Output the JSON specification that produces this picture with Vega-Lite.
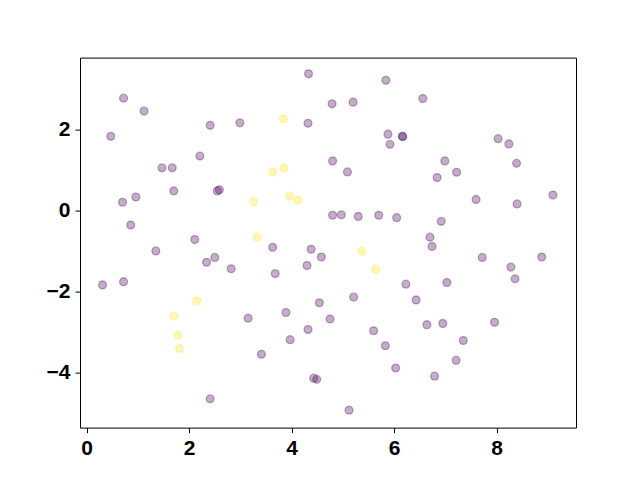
{
  "$schema": "https://vega.github.io/schema/vega-lite/v6.json",
  "width": 496,
  "height": 370,
  "autosize": {"type": "none"},
  "padding": {"left": 80, "top": 57.6, "right": 64, "bottom": 52.4},
  "background": "white",
  "config": {
    "view": {"stroke": "black", "strokeWidth": 1},
    "axis": {
      "grid": false,
      "domain": false,
      "tickColor": "black",
      "tickSize": 5,
      "tickWidth": 1,
      "labelFont": "Liberation Sans",
      "labelFontWeight": "bold",
      "labelFontSize": 21,
      "labelColor": "black",
      "labelPadding": 5,
      "title": null
    }
  },
  "data": {
    "values": [
      {"x": 0.72, "y": 2.77, "c": 0}, {"x": 1.12, "y": 2.45, "c": 0}, {"x": 0.47, "y": 1.83, "c": 0},
      {"x": 2.41, "y": 2.10, "c": 0}, {"x": 2.99, "y": 2.16, "c": 0}, {"x": 2.21, "y": 1.34, "c": 0},
      {"x": 1.47, "y": 1.05, "c": 0}, {"x": 1.67, "y": 1.05, "c": 0}, {"x": 1.70, "y": 0.48, "c": 0},
      {"x": 2.55, "y": 0.48, "c": 0}, {"x": 2.59, "y": 0.51, "c": 0}, {"x": 0.70, "y": 0.20, "c": 0},
      {"x": 0.96, "y": 0.33, "c": 0}, {"x": 0.86, "y": -0.36, "c": 0}, {"x": 2.11, "y": -0.72, "c": 0},
      {"x": 4.33, "y": 3.37, "c": 0}, {"x": 5.84, "y": 3.21, "c": 0}, {"x": 4.79, "y": 2.63, "c": 0},
      {"x": 5.20, "y": 2.67, "c": 0}, {"x": 4.32, "y": 2.15, "c": 0}, {"x": 5.88, "y": 1.88, "c": 0},
      {"x": 6.16, "y": 1.83, "c": 0}, {"x": 6.17, "y": 1.82, "c": 0}, {"x": 5.92, "y": 1.63, "c": 0},
      {"x": 4.80, "y": 1.22, "c": 0}, {"x": 5.09, "y": 0.95, "c": 0}, {"x": 4.80, "y": -0.12, "c": 0},
      {"x": 4.97, "y": -0.11, "c": 0}, {"x": 5.30, "y": -0.15, "c": 0}, {"x": 5.70, "y": -0.12, "c": 0},
      {"x": 6.05, "y": -0.18, "c": 0}, {"x": 6.56, "y": 2.76, "c": 0}, {"x": 8.03, "y": 1.77, "c": 0},
      {"x": 8.24, "y": 1.64, "c": 0}, {"x": 8.39, "y": 1.16, "c": 0}, {"x": 6.99, "y": 1.22, "c": 0},
      {"x": 7.22, "y": 0.94, "c": 0}, {"x": 6.84, "y": 0.81, "c": 0}, {"x": 7.60, "y": 0.27, "c": 0},
      {"x": 8.40, "y": 0.16, "c": 0}, {"x": 9.10, "y": 0.38, "c": 0}, {"x": 6.92, "y": -0.27, "c": 0},
      {"x": 6.70, "y": -0.66, "c": 0}, {"x": 1.35, "y": -1.00, "c": 0}, {"x": 2.34, "y": -1.28, "c": 0},
      {"x": 2.50, "y": -1.16, "c": 0}, {"x": 2.82, "y": -1.44, "c": 0}, {"x": 0.31, "y": -1.84, "c": 0},
      {"x": 0.72, "y": -1.76, "c": 0}, {"x": 2.41, "y": -4.65, "c": 0}, {"x": 3.63, "y": -0.91, "c": 0},
      {"x": 4.38, "y": -0.96, "c": 0}, {"x": 4.58, "y": -1.15, "c": 0}, {"x": 4.30, "y": -1.36, "c": 0},
      {"x": 3.68, "y": -1.56, "c": 0}, {"x": 6.23, "y": -1.82, "c": 0}, {"x": 5.21, "y": -2.14, "c": 0},
      {"x": 4.54, "y": -2.28, "c": 0}, {"x": 3.15, "y": -2.66, "c": 0}, {"x": 3.89, "y": -2.52, "c": 0},
      {"x": 4.75, "y": -2.68, "c": 0}, {"x": 4.32, "y": -2.94, "c": 0}, {"x": 3.97, "y": -3.19, "c": 0},
      {"x": 5.60, "y": -2.97, "c": 0}, {"x": 5.83, "y": -3.34, "c": 0}, {"x": 6.03, "y": -3.89, "c": 0},
      {"x": 3.41, "y": -3.55, "c": 0}, {"x": 4.43, "y": -4.14, "c": 0}, {"x": 4.49, "y": -4.17, "c": 0},
      {"x": 5.12, "y": -4.93, "c": 0}, {"x": 6.74, "y": -0.89, "c": 0}, {"x": 7.72, "y": -1.16, "c": 0},
      {"x": 8.28, "y": -1.40, "c": 0}, {"x": 8.36, "y": -1.69, "c": 0}, {"x": 8.88, "y": -1.15, "c": 0},
      {"x": 7.03, "y": -1.78, "c": 0}, {"x": 6.43, "y": -2.21, "c": 0}, {"x": 6.64, "y": -2.82, "c": 0},
      {"x": 6.95, "y": -2.79, "c": 0}, {"x": 7.96, "y": -2.76, "c": 0}, {"x": 7.35, "y": -3.21, "c": 0},
      {"x": 7.21, "y": -3.70, "c": 0}, {"x": 6.79, "y": -4.09, "c": 0},
      {"x": 3.84, "y": 2.26, "c": 1}, {"x": 3.63, "y": 0.95, "c": 1}, {"x": 3.85, "y": 1.04, "c": 1},
      {"x": 3.96, "y": 0.35, "c": 1}, {"x": 4.12, "y": 0.25, "c": 1}, {"x": 3.26, "y": 0.21, "c": 1},
      {"x": 3.33, "y": -0.66, "c": 1}, {"x": 5.37, "y": -1.01, "c": 1}, {"x": 5.64, "y": -1.45, "c": 1},
      {"x": 2.15, "y": -2.23, "c": 1}, {"x": 1.70, "y": -2.61, "c": 1}, {"x": 1.78, "y": -3.08, "c": 1},
      {"x": 1.81, "y": -3.41, "c": 1}
    ]
  },
  "mark": {"type": "point", "shape": "circle", "filled": true, "size": 62, "fillOpacity": 0.32, "strokeOpacity": 0.32, "strokeWidth": 1.3},
  "encoding": {
    "x": {"field": "x", "type": "quantitative", "scale": {"domain": [-0.13, 9.55], "nice": false, "zero": false}, "axis": {"values": [0, 2, 4, 6, 8]}},
    "y": {"field": "y", "type": "quantitative", "scale": {"domain": [-5.36, 3.77], "nice": false, "zero": false}, "axis": {"values": [-4, -2, 0, 2]}},
    "color": {"field": "c", "type": "nominal", "scale": {"domain": [0, 1], "range": ["#440154", "#fde725"]}, "legend": null},
    "stroke": {"field": "c", "type": "nominal", "scale": {"domain": [0, 1], "range": ["#440154", "#fde725"]}, "legend": null}
  }
}
